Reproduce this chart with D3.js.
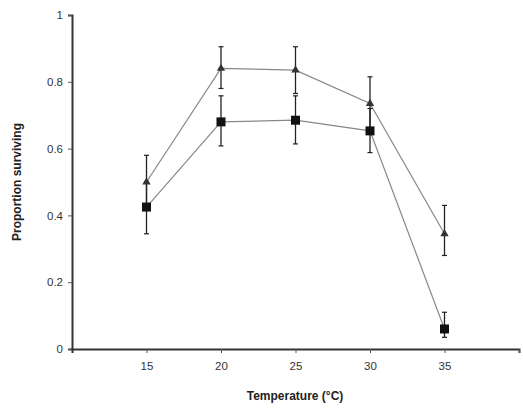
<!DOCTYPE html>
<html>
<head>
<meta charset="utf-8">
<script src="https://cdn.jsdelivr.net/npm/d3@7"></script>
<style>
  body { margin: 0; background: #fff; }
  text { font-family: "Liberation Sans", Arial, sans-serif; }
</style>
</head>
<body>
<div id="chart"><svg></svg></div>
<script>
// temperatures and survival (two treatments)
var temps = [15, 20, 25, 30, 35];
var xTicks = [15, 20, 25, 30, 35];
var yTicks = [0, 0.2, 0.4, 0.6, 0.8, 1];
var triMean = [0.50, 0.84, 0.835, 0.735, 0.345];
var triLow  = [0.42, 0.78, 0.765, 0.66, 0.28];
var triHigh = [0.58, 0.905, 0.905, 0.815, 0.43];
var sqMean  = [0.425, 0.68, 0.685, 0.653, 0.06];
var sqLow   = [0.345, 0.608, 0.614, 0.588, 0.035];
var sqHigh  = [0.50, 0.758, 0.758, 0.72, 0.11];

var width = 523, height = 412;
var svg = d3.select('#chart').select('svg').attr('width', width).attr('height', height);

var x = d3.scaleLinear().domain([10, 40]).range([72, 519]);
var y = d3.scaleLinear().domain([0, 1]).range([349, 15]);

function series(mean, low, high) {
  return temps.map(function(t, i) { return {t: t, v: mean[i], lo: low[i], hi: high[i]}; });
}
var tri = series(triMean, triLow, triHigh);
var sq = series(sqMean, sqLow, sqHigh);

// axes
var yAxis = svg.append('g').attr('transform', 'translate(' + x(10) + ',0)')
  .call(d3.axisLeft(y).tickValues(yTicks).tickSize(4).tickFormat(function(d) { return d === 0 || d === 1 ? d : d3.format('.1f')(d); }));
var xAxis = svg.append('g').attr('transform', 'translate(0,' + y(0) + ')')
  .call(d3.axisBottom(x).tickValues(xTicks.concat([40])).tickSize(4).tickFormat(function(d) { return d === 40 ? '' : d; }));
[yAxis, xAxis].forEach(function(g) {
  g.attr('color', '#333');
  g.select('.domain').attr('stroke-width', 2);
  g.selectAll('.tick line').attr('stroke', '#555');
  g.selectAll('.tick text').style('fill', '#333').attr('font-size', 11.5);
});
yAxis.selectAll('.tick text').attr('x', -9);
xAxis.selectAll('.tick text').attr('y', 13);

// lines
var line = d3.line().x(function(d) { return x(d.t); }).y(function(d) { return y(d.v); });
[tri, sq].forEach(function(s) {
  svg.append('path').datum(s).attr('d', line)
    .attr('fill', 'none').attr('stroke', '#888').attr('stroke-width', 1.2);
});

// error bars
[tri, sq].forEach(function(s) {
  var g = svg.append('g').selectAll('g').data(s).enter().append('g');
  g.append('line').attr('x1', function(d) { return x(d.t); }).attr('x2', function(d) { return x(d.t); })
    .attr('y1', function(d) { return y(d.lo); }).attr('y2', function(d) { return y(d.hi); })
    .attr('stroke', '#222').attr('stroke-width', 1.3);
  ['lo', 'hi'].forEach(function(k) {
    g.append('line').attr('x1', function(d) { return x(d.t) - 2.5; }).attr('x2', function(d) { return x(d.t) + 2.5; })
      .attr('y1', function(d) { return y(d[k]); }).attr('y2', function(d) { return y(d[k]); })
      .attr('stroke', '#222').attr('stroke-width', 1.2);
  });
});

// markers
svg.append('g').selectAll('path').data(tri).enter().append('path')
  .attr('d', d3.symbol().type(d3.symbolTriangle).size(30))
  .attr('transform', function(d) { return 'translate(' + x(d.t) + ',' + y(d.v) + ')'; })
  .attr('fill', '#333');
svg.append('g').selectAll('rect').data(sq).enter().append('rect')
  .attr('x', function(d) { return x(d.t) - 4.5; }).attr('y', function(d) { return y(d.v) - 4.5; })
  .attr('width', 9).attr('height', 9).attr('fill', '#111');

// axis titles
svg.append('text').attr('x', 295).attr('y', 400).attr('text-anchor', 'middle')
  .attr('font-size', 12).attr('font-weight', 'bold').attr('fill', '#222').text('Temperature (°C)');
svg.append('text').attr('transform', 'translate(21,182) rotate(-90)').attr('text-anchor', 'middle')
  .attr('font-size', 12).attr('font-weight', 'bold').attr('fill', '#222').text('Proportion surviving');
</script>
</body>
</html>
